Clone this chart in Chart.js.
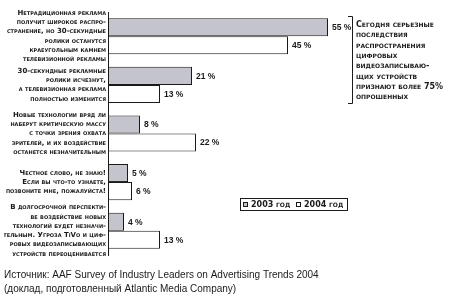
<!DOCTYPE html>
<html><head><meta charset="utf-8">
<script src="https://cdn.jsdelivr.net/npm/chart.js@4.4.1/dist/chart.umd.min.js"></script>
<style>html,body{margin:0;padding:0;background:#fff}#wrap{width:463px;height:306px;position:relative}</style>
</head><body><div id="wrap"><canvas id="c"></canvas></div>
<script>
const categories = [
  ['Нетрадиционная реклама','получит широкое распро-','странение, но 30-секундные','ролики останутся','краеугольным камнем','телевизионной рекламы'],
  ['30-секундные рекламные','ролики исчезнут,','а телевизионная реклама','полностью изменится'],
  ['Новые технологии вряд ли','наберут критическую массу','с точки зрения охвата','зрителей, и их воздействие','останется незначительным'],
  ['Честное слово, не знаю!','Если вы что-то узнаете,','позвоните мне, пожалуйста!'],
  ['В долгосрочной перспекти-','ве воздействие новых','технологий будет незначи-','тельным. Угроза TiVo и циф-','ровых видеозаписывающих','устройств переоценивается']
];
const values2003 = [55, 21, 8, 5, 4];
const values2004 = [45, 13, 22, 6, 13];
const seriesNames = ['2003 год', '2004 год'];
const noteLines = ['Сегодня серьезные','последствия','распространения','цифровых','видеозаписываю-','щих устройств','признают более 75%','опрошенных'];
const sourceLines = ['Источник: AAF Survey of Industry Leaders on Advertising Trends 2004','(доклад, подготовленный Atlantic Media Company)'];

const SC = '"DejaVu Sans", sans-serif';
const NARROW = '"Liberation Sans Narrow", "Arial Narrow", sans-serif';

const valueLabels = {
  id: 'valueLabels',
  afterDatasetsDraw(chart) {
    const ctx = chart.ctx;
    ctx.save();
    ctx.font = 'bold 8.5px ' + NARROW;
    ctx.fillStyle = '#1a1a1a';
    ctx.textBaseline = 'middle';
    ctx.textAlign = 'left';
    chart.data.datasets.forEach((ds, di) => {
      chart.getDatasetMeta(di).data.forEach((bar, i) => {
        ctx.fillText(ds.data[i] + ' %', bar.x + 4, bar.y + 0.5);
      });
    });
    ctx.restore();
  }
};

const extras = {
  id: 'extras',
  afterDraw(chart) {
    const ctx = chart.ctx;
    ctx.save();
    ctx.strokeStyle = '#1a1a1a';
    ctx.lineWidth = 1;
    ctx.beginPath();
    ctx.moveTo(348, 16.5); ctx.lineTo(352.5, 16.5); ctx.lineTo(352.5, 103.5); ctx.lineTo(348, 103.5);
    ctx.stroke();
    ctx.font = 'small-caps bold 8px ' + SC;
    ctx.fillStyle = '#1a1a1a';
    ctx.textBaseline = 'middle';
    ctx.textAlign = 'left';
    noteLines.forEach((t, i) => ctx.fillText(t, 356, 25 + i * 10.3));
    ctx.strokeRect(240.5, 198.5, 107, 12);
    const ds = chart.data.datasets;
    const xs = [243, 296];
    ds.forEach((d, i) => {
      ctx.fillStyle = d.backgroundColor;
      ctx.fillRect(xs[i] + 0.5, 202.5, 4, 4);
      ctx.strokeStyle = '#1a1a1a';
      ctx.strokeRect(xs[i] + 0.5, 202.5, 4, 4);
      ctx.fillStyle = '#1a1a1a';
      ctx.font = 'small-caps bold 8px ' + SC;
      ctx.fillText(seriesNames[i], xs[i] + 8, 204.5);
    });
    ctx.restore();
  }
};

new Chart(document.getElementById('c'), {
  type: 'bar',
  data: {
    labels: categories,
    datasets: [
      { label: seriesNames[0], data: values2003, backgroundColor: '#c4c4cc', borderColor: '#1a1a1a', borderWidth: 1, borderSkipped: false },
      { label: seriesNames[1], data: values2004, backgroundColor: '#ffffff', borderColor: '#1a1a1a', borderWidth: 1, borderSkipped: false }
    ]
  },
  options: {
    indexAxis: 'y',
    responsive: true,
    maintainAspectRatio: false,
    animation: false,
    devicePixelRatio: 1,
    categoryPercentage: 0.742,
    barPercentage: 1,
    layout: { padding: { left: 4, top: 12, right: 3, bottom: 0 } },
    scales: {
      x: { type: 'linear', min: 0, max: 88, display: false },
      y: {
        grid: { display: false, drawTicks: false },
        border: { display: true, color: '#1a1a1a', width: 1 },
        ticks: { autoSkip: false, padding: 2, color: '#1a1a1a', font: { family: SC, size: 7, weight: 'small-caps bold', lineHeight: 1.33 } },
        afterFit(s) { s.width = 104; s.paddingTop = 0; s.paddingBottom = 0; }
      }
    },
    plugins: {
      legend: { display: false },
      tooltip: { enabled: false },
      title: {
        display: true, position: 'bottom', align: 'start',
        text: sourceLines,
        color: '#1a1a1a',
        font: { family: NARROW, size: 10, weight: 'normal', lineHeight: 1.4 },
        padding: { top: 13, bottom: 10 }
      }
    }
  },
  plugins: [valueLabels, extras]
});
</script>
</body></html>
